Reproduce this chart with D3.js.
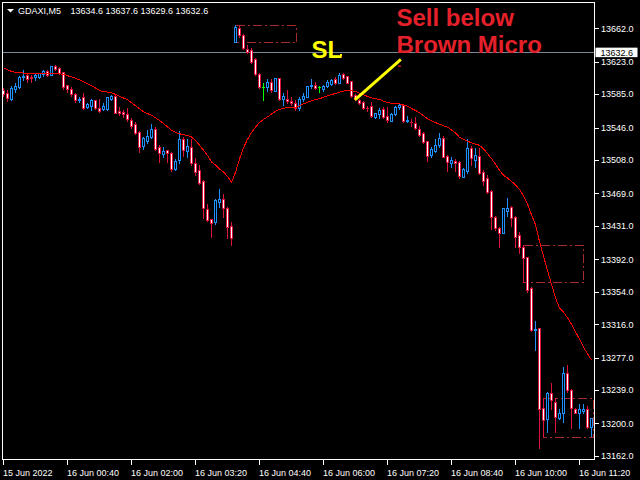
<!DOCTYPE html>
<html><head><meta charset="utf-8">
<script src="https://cdn.jsdelivr.net/npm/d3@7"></script>
<style>html,body{margin:0;padding:0;background:#000;overflow:hidden}svg{display:block}</style>
</head><body><svg id="c" width="640" height="480"></svg>
<script>
// ---- data (GDAXI M5) ----
const openP = [13589.9,13586.3,13579.3,13591.0,13593.4,13605.1,13607.4,13605.1,13605.1,13605.1,
13608.6,13612.1,13607.4,13617.9,13615.6,13610.9,13595.7,13591.0,13585.2,13578.2,
13581.7,13570.0,13571.2,13578.2,13568.8,13567.6,13567.6,13579.3,13582.8,13565.3,
13564.1,13561.8,13554.8,13550.1,13540.8,13524.4,13530.2,13534.9,13544.3,13523.2,
13515.0,13519.7,13516.2,13497.5,13508.0,13532.6,13518.5,13523.2,13504.5,13496.3,
13483.5,13450.7,13439.1,13435.5,13458.9,13462.4,13451.9,13430.9,13646.0,13662.3,
13654.1,13637.8,13636.6,13626.1,13608.6,13593.4,13593.4,13599.2,13588.7,13603.9,
13579.3,13579.3,13577.0,13574.7,13568.8,13579.3,13581.7,13594.5,13595.7,13593.4,
13591.0,13594.5,13596.9,13602.7,13598.0,13608.6,13606.2,13600.4,13584.0,13578.2,
13575.8,13569.4,13571.2,13558.3,13561.8,13567.6,13559.5,13553.6,13561.8,13570.0,
13572.3,13553.6,13553.0,13551.3,13544.3,13539.6,13530.2,13513.9,13518.5,13525.6,
13533.7,13512.7,13504.5,13506.9,13505.7,13488.2,13495.2,13522.1,13508.0,13512.7,
13494.0,13487.0,13471.8,13441.4,13428.5,13422.7,13448.4,13453.1,13441.4,13420.4,
13406.3,13394.6,13358.4,13309.3,13311.7,13218.1,13205.3,13235.7,13225.1,13206.4,
13212.2,13259.0,13239.2,13216.9,13212.2,13214.6,13216.9,13195.9];
const highP = [13592.2,13589.9,13594.5,13598.0,13606.2,13613.2,13608.6,13607.4,13608.6,13609.7,
13613.2,13613.2,13617.9,13619.1,13616.7,13610.9,13595.7,13593.4,13586.3,13581.7,
13586.3,13574.7,13579.3,13578.2,13579.3,13574.7,13581.7,13584.0,13584.0,13570.0,
13566.5,13568.8,13557.1,13552.4,13541.9,13534.9,13543.1,13550.1,13546.6,13525.6,
13523.2,13519.7,13517.4,13509.2,13541.9,13534.9,13532.6,13532.6,13510.4,13502.2,
13484.7,13456.6,13439.1,13462.4,13474.1,13468.3,13453.1,13435.5,13665.8,13664.7,
13655.3,13642.5,13639.0,13627.3,13609.7,13598.0,13602.7,13602.7,13603.9,13603.9,
13586.3,13589.9,13581.7,13578.2,13581.7,13586.3,13594.5,13602.7,13599.2,13594.5,
13595.7,13601.5,13602.7,13605.1,13609.7,13609.7,13606.2,13600.4,13585.2,13579.3,
13577.0,13571.2,13575.8,13563.0,13568.8,13570.0,13570.0,13563.0,13571.2,13574.7,
13572.3,13559.5,13556.0,13558.3,13547.8,13540.8,13530.2,13523.2,13532.6,13539.6,
13536.1,13513.9,13511.5,13509.2,13506.9,13498.7,13532.6,13524.4,13522.1,13522.1,
13496.3,13490.5,13473.0,13442.6,13429.7,13451.9,13463.6,13454.2,13442.6,13423.9,
13408.7,13394.6,13359.6,13319.9,13311.7,13229.8,13236.8,13247.3,13229.8,13216.9,
13266.1,13268.4,13240.3,13218.1,13222.8,13222.8,13220.5,13206.4];
const lowP = [13582.8,13577.0,13578.2,13587.5,13592.2,13601.5,13599.2,13599.2,13601.5,13603.9,
13606.2,13606.2,13607.4,13613.2,13608.6,13591.0,13587.5,13582.8,13575.8,13575.8,
13567.6,13568.8,13566.5,13567.6,13564.1,13566.5,13566.5,13578.2,13563.0,13560.6,
13558.3,13553.6,13545.4,13538.4,13517.4,13520.9,13527.9,13533.7,13519.7,13505.7,
13511.5,13505.7,13495.2,13496.3,13504.5,13512.7,13511.5,13502.2,13490.5,13480.0,
13440.2,13436.7,13418.0,13433.2,13453.1,13441.4,13416.8,13408.7,13646.0,13651.8,
13637.8,13633.1,13621.4,13607.4,13592.2,13578.2,13588.7,13587.5,13588.7,13578.2,
13572.3,13574.7,13572.3,13566.5,13566.5,13577.0,13581.7,13592.2,13591.0,13587.5,
13588.7,13593.4,13595.7,13596.9,13598.0,13602.7,13598.0,13581.7,13578.2,13573.5,
13567.6,13565.3,13558.3,13557.1,13557.1,13557.1,13552.4,13553.6,13560.6,13567.6,
13552.4,13552.4,13547.8,13544.3,13536.1,13527.9,13506.9,13511.5,13517.4,13523.2,
13511.5,13495.2,13499.9,13495.2,13487.0,13488.2,13492.8,13502.2,13499.9,13491.7,
13478.8,13469.4,13427.4,13426.2,13406.3,13422.7,13442.6,13430.9,13406.3,13399.3,
13365.4,13353.7,13308.1,13285.9,13171.4,13184.2,13190.0,13216.9,13190.0,13205.3,
13201.7,13236.8,13194.7,13212.2,13194.7,13212.2,13194.7,13185.4];
const closeP = [13585.2,13580.5,13592.2,13594.5,13605.1,13606.2,13602.7,13603.9,13607.4,13609.7,
13612.1,13607.4,13617.9,13614.4,13609.7,13593.4,13591.0,13585.2,13578.2,13579.3,
13568.8,13573.5,13578.2,13568.8,13565.3,13571.2,13581.7,13582.8,13563.0,13563.0,
13561.8,13556.0,13547.8,13539.6,13523.2,13533.7,13536.1,13544.3,13520.9,13516.2,
13518.5,13516.2,13497.5,13506.9,13532.6,13519.7,13524.4,13504.5,13494.0,13481.1,
13451.9,13437.9,13434.4,13461.3,13462.4,13451.9,13429.7,13416.8,13663.5,13654.1,
13639.0,13634.3,13622.6,13608.6,13593.4,13593.4,13599.2,13589.9,13603.9,13579.3,
13582.8,13577.0,13574.7,13568.8,13579.3,13582.8,13594.5,13595.7,13592.2,13593.4,
13594.5,13599.2,13601.5,13598.0,13607.4,13603.9,13598.0,13582.8,13579.3,13574.7,
13568.8,13568.8,13559.5,13563.0,13566.5,13558.3,13554.8,13561.8,13570.0,13572.3,
13553.6,13554.8,13552.4,13545.4,13537.2,13529.1,13512.7,13520.9,13525.6,13533.7,
13511.5,13505.7,13508.0,13504.5,13489.3,13497.5,13522.1,13510.4,13513.9,13492.8,
13483.5,13470.6,13441.4,13428.5,13422.7,13451.9,13451.9,13440.2,13418.0,13406.3,
13393.5,13356.1,13309.3,13310.5,13216.9,13204.1,13235.7,13227.5,13207.6,13212.2,
13259.0,13239.2,13218.1,13212.2,13216.9,13216.9,13195.9,13206.4];
const maP = [13615.8,13613.7,13611.6,13610.4,13610.1,13609.7,13609.6,13609.5,13609.4,13609.3,
13609.1,13609.0,13608.9,13608.8,13608.7,13608.4,13606.6,13605.1,13603.6,13601.7,
13599.6,13597.3,13594.8,13592.2,13589.5,13587.8,13587.5,13586.8,13584.7,13582.5,
13580.5,13578.6,13574.9,13571.4,13567.9,13564.4,13562.3,13560.3,13557.5,13554.1,
13550.6,13546.7,13542.7,13540.3,13538.7,13537.6,13536.7,13534.9,13530.9,13525.3,
13519.5,13513.3,13505.8,13502.2,13497.4,13494.0,13488.9,13481.8,13493.6,13509.2,
13522.3,13532.2,13540.3,13546.3,13551.9,13555.4,13558.5,13561.7,13565.1,13567.2,
13568.5,13569.6,13569.6,13569.6,13571.2,13573.6,13575.6,13577.3,13578.5,13579.7,
13581.3,13583.0,13584.5,13585.9,13587.3,13588.5,13589.5,13589.2,13588.0,13586.3,
13584.4,13582.4,13580.7,13579.7,13578.7,13576.9,13575.0,13574.5,13574.1,13573.6,
13572.7,13570.9,13568.3,13565.9,13563.4,13559.9,13556.4,13553.8,13551.7,13549.9,
13548.1,13546.4,13543.2,13539.7,13534.6,13532.1,13530.1,13528.1,13526.6,13525.2,
13521.2,13515.6,13509.7,13503.0,13495.9,13490.3,13486.9,13483.2,13478.8,13473.7,
13466.1,13456.5,13444.0,13432.4,13412.8,13395.6,13379.1,13362.6,13347.1,13335.0,
13330.2,13323.6,13316.1,13307.2,13298.5,13289.1,13281.6,13274.1];

const timeTickBars = [0,16,32,48,64,80,96,112,128,144];
const timeTickLabels = ["15 Jun 2022","16 Jun 00:40","16 Jun 02:00","16 Jun 03:20","16 Jun 04:40",
  "16 Jun 06:00","16 Jun 07:20","16 Jun 08:40","16 Jun 10:00","16 Jun 11:20"];
const priceTicks = [13662,13623,13585,13546,13508,13469,13431,13392,13354,13316,13277,13239,13200,13162];
const priceTickLabels = priceTicks.map(v => v.toFixed(1));
const headerSymbol = "GDAXI,M5";
const headerOHLC = ["13634.6","13637.6","13629.6","13632.6"];
const bidPrice = 13632.6;

// annotation objects
const rectStartBar = [58, 130, 135];
const rectEndBar = [73.1, 145, 147.5];
const rectTop = [13665.8, 13408.7, 13229.8];
const rectBottom = [13646.3, 13365.4, 13184.2];
const trendBars = [87.9, 99.4];
const trendPrices = [13578.2, 13625.7];

// ---- drawing ----
const svg = d3.select('#c');
svg.append('rect').attr('width',640).attr('height',480).attr('fill','#000');
const FONT = '"Liberation Sans", Arial, sans-serif';

const xS = d3.scaleLinear().domain([0, 147]).range([3.3, 591.3]);
const yS = d3.scaleLinear().domain([13162, 13662]).range([456, 28.3]);

svg.append('defs').append('clipPath').attr('id','clip')
  .append('rect').attr('x',3).attr('y',3).attr('width',591).attr('height',456);

const plot = svg.append('g').attr('clip-path','url(#clip)');

// bid line
const by = Math.round(yS(bidPrice)) - 0.5;
plot.append('line').attr('x1',2).attr('x2',595).attr('y1',by).attr('y2',by)
  .attr('stroke','#778899').attr('stroke-width',1).attr('shape-rendering','crispEdges');

// rectangles (dash-dot, brown)
rectStartBar.forEach((s,i) => {
  const x1 = Math.round(xS(s)) + 0.5, x2 = Math.round(xS(rectEndBar[i])) + 0.5;
  const y1 = Math.round(yS(rectTop[i])) + 0.5, y2 = Math.round(yS(rectBottom[i])) + 0.5;
  plot.append('rect').attr('x',x1).attr('y',y1).attr('width',x2-x1).attr('height',y2-y1)
    .attr('fill','none').attr('stroke','#a52a2a').attr('stroke-width',1)
    .attr('stroke-dasharray','9,3,2,3').attr('shape-rendering','crispEdges');
});

// candles
const gC = plot.append('g').attr('shape-rendering','crispEdges');
d3.range(openP.length).forEach(i => {
  const o = openP[i], c = closeP[i], h = highP[i], l = lowP[i];
  const px = Math.floor(xS(i));
  const doji = o === c, bull = c > o;
  const col = doji ? '#00ff00' : (bull ? '#1e90ff' : '#dc143c');
  const yh = Math.round(yS(h)), yl = Math.round(yS(l));
  gC.append('rect').attr('x',px).attr('y',yh).attr('width',1)
    .attr('height',Math.max(1, yl - yh + 1)).attr('fill',col);
  const bt = Math.round(yS(Math.max(o,c))), bb = Math.round(yS(Math.min(o,c)));
  const bh = Math.max(1, bb - bt + 1);
  gC.append('rect').attr('x',px-1).attr('y',bt).attr('width',3).attr('height',bh).attr('fill',col);
  if (bh >= 3 && !doji) {
    gC.append('rect').attr('x',px).attr('y',bt+1).attr('width',1).attr('height',bh-2)
      .attr('fill', bull ? '#000' : '#fff');
  }
});

// moving average
const line = d3.line().x((d,i) => Math.floor(xS(i)) + 0.5).y(d => yS(d));
plot.append('path').datum(maP).attr('d',line).attr('fill','none')
  .attr('stroke','#ff0000').attr('stroke-width',1).attr('shape-rendering','crispEdges');

// yellow trend line
plot.append('line')
  .attr('x1',xS(trendBars[0])).attr('y1',yS(trendPrices[0]))
  .attr('x2',xS(trendBars[1])).attr('y2',yS(trendPrices[1]))
  .attr('stroke','#ffff00').attr('stroke-width',3);
plot.append('rect').attr('x',398).attr('y',65.5).attr('width',3).attr('height',1.2).attr('fill','#e4202a');
plot.append('rect').attr('x',340).attr('y',54).attr('width',2).attr('height',2).attr('fill','#ffff00');

// texts
plot.append('text').attr('x',311.5).attr('y',58).text('SL')
  .attr('font-family',FONT).attr('font-weight','bold').attr('font-size',24).attr('fill','#ffff00');
plot.append('text').attr('x',396.5).attr('y',26).text('Sell below')
  .attr('font-family',FONT).attr('font-weight','bold').attr('font-size',24).attr('fill','#e4202a');
plot.append('text').attr('x',396.5).attr('y',53).text('Brown Micro')
  .attr('font-family',FONT).attr('font-weight','bold').attr('font-size',24).attr('fill','#e4202a');

// frame
svg.append('rect').attr('x',2.5).attr('y',2.5).attr('width',592).attr('height',457)
  .attr('fill','none').attr('stroke','#ffffff').attr('stroke-width',1).attr('shape-rendering','crispEdges');

// header
svg.append('path').attr('d','M7,9 L14,9 L10.5,12.5 Z').attr('fill','#ffffff');
svg.append('text').attr('x',18).attr('y',14).text(headerSymbol)
  .attr('font-family',FONT).attr('font-size',9).attr('fill','#ffffff');
svg.append('text').attr('x',70.5).attr('y',14).text(headerOHLC.join(' '))
  .attr('font-family',FONT).attr('font-size',9).attr('fill','#ffffff');

// price axis
const gY = svg.append('g');
priceTicks.forEach((v,i) => {
  const ty = Math.round(yS(v)) + 0.5;
  gY.append('line').attr('x1',595).attr('x2',599).attr('y1',ty).attr('y2',ty)
    .attr('stroke','#ffffff').attr('shape-rendering','crispEdges');
  gY.append('text').attr('x',601).attr('y',yS(v) + 3.3).text(priceTickLabels[i])
    .attr('font-family',FONT).attr('font-size',9).attr('fill','#ffffff');
});
// bid label
gY.append('rect').attr('x',595.5).attr('y',yS(bidPrice) - 5.8).attr('width',42).attr('height',9.5)
  .attr('fill','#ffffff');
gY.append('text').attr('x',600.5).attr('y',yS(bidPrice) + 2.6).text(bidPrice.toFixed(1))
  .attr('font-family',FONT).attr('font-size',9).attr('fill','#000000');

// time axis
const gX = svg.append('g');
timeTickBars.forEach((b,i) => {
  const tx = Math.floor(xS(b)) + 0.5;
  gX.append('line').attr('x1',tx).attr('x2',tx).attr('y1',460).attr('y2',465)
    .attr('stroke','#ffffff').attr('shape-rendering','crispEdges');
  gX.append('text').attr('x',tx - 0.5).attr('y',475.5).text(timeTickLabels[i])
    .attr('font-family',FONT).attr('font-size',9).attr('fill','#ffffff');
});
</script>
</body></html>
